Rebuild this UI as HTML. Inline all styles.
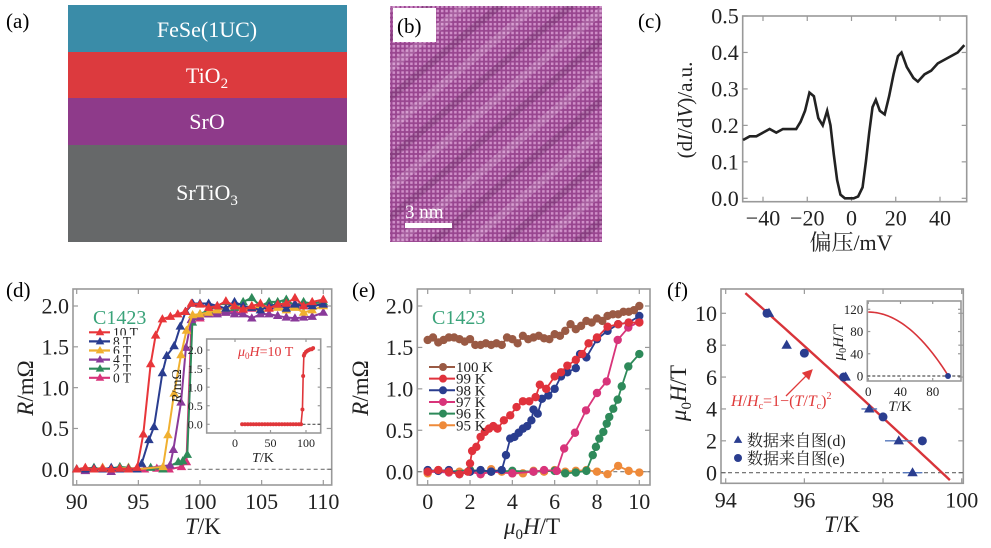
<!DOCTYPE html>
<html><head><meta charset="utf-8"><style>
html,body{margin:0;padding:0;background:#fff;}
svg{display:block;font-family:"Liberation Serif","Noto Serif CJK SC",serif;}
</style></head><body>
<svg id="fig" width="991" height="548" viewBox="0 0 991 548" xmlns="http://www.w3.org/2000/svg">
<defs>
<pattern id="lat" width="4.4" height="4.4" patternUnits="userSpaceOnUse">
<rect width="4.4" height="4.4" fill="#98458f"/>
<rect x="0.9" y="0.9" width="2.6" height="2.6" fill="#cf8ec8"/>
</pattern>
<pattern id="bands" width="46" height="46" patternUnits="userSpaceOnUse" patternTransform="rotate(-40)">
<rect width="46" height="7" fill="#3a1035" opacity="0.18"/>
<rect y="23" width="46" height="8" fill="#ffffff" opacity="0.14"/>
</pattern>
<marker id="arr" markerWidth="8" markerHeight="8" refX="6" refY="4" orient="auto"><path d="M0,0 L8,4 L0,8 z" fill="#e03a3a"/></marker>
</defs>

<g>
<text x="6" y="28" font-size="21">(a)</text>
<rect x="68" y="5" width="279" height="47" fill="#3a8ca8"/>
<rect x="68" y="52" width="279" height="46" fill="#dc3a3e"/>
<rect x="68" y="98" width="279" height="47" fill="#8e3a8a"/>
<rect x="68" y="145" width="279" height="97" fill="#666869"/>
<text x="207" y="37" font-size="22" fill="#fff" text-anchor="middle">FeSe(1UC)</text>
<text x="207" y="83" font-size="22" fill="#fff" text-anchor="middle">TiO<tspan font-size="15" dy="5">2</tspan></text>
<text x="207" y="129" font-size="22" fill="#fff" text-anchor="middle">SrO</text>
<text x="207" y="200" font-size="22" fill="#fff" text-anchor="middle">SrTiO<tspan font-size="15" dy="5">3</tspan></text>
</g>

<g>
<rect x="390" y="6" width="212" height="236" fill="url(#lat)"/>
<rect x="390" y="6" width="212" height="236" fill="url(#bands)"/>
<rect x="393" y="8" width="43" height="34" fill="#fff"/>
<text x="397" y="33" font-size="21">(b)</text>
<text x="405" y="218" font-size="19" fill="#fff">3 nm</text>
<rect x="405" y="223" width="47" height="5" fill="#fff"/>
</g>

<text x="638" y="28" font-size="21">(c)</text>
<text x="6" y="297" font-size="21">(d)</text>
<text x="352" y="297" font-size="21">(e)</text>
<text x="667" y="297" font-size="21">(f)</text>
</svg>
<script>
// ---------- data: panel c ----------
const cBias = [-49,-46,-43,-40,-37,-34,-31,-28,-25,-23,-21,-19,-17,-15,-13,-11,-9.5,-8,-6.5,-5,-3,-1,1,3,5,6.5,8,9.5,11,12.8,15,17,19,21,22.6,25,28,30,33,36,39,42,45,48,51];
const cDidv = [0.16,0.17,0.17,0.18,0.19,0.18,0.19,0.19,0.19,0.21,0.24,0.29,0.28,0.22,0.2,0.24,0.2,0.12,0.05,0.01,0.0,0.0,0.0,0.005,0.03,0.1,0.18,0.25,0.27,0.24,0.23,0.28,0.34,0.39,0.4,0.36,0.33,0.32,0.34,0.35,0.37,0.38,0.39,0.4,0.42];
const cYTicks = [0,0.1,0.2,0.3,0.4,0.5];
const cXTicks = [-40,-20,0,20,40];
// ---------- data: panel d ----------
const dLowT = [90,90.7,91.4,92.1,92.8,93.5,94.2,94.9];
const dHighT = [100,100.7,101.4,102.1,102.8,103.5,104.2,104.9,105.6,106.3,107,107.7,108.4,109.1,110];
const dFields = ['10 T','8 T','6 T','4 T','2 T','0 T'];
const dColors = ['#e8363a','#2a3d8f','#f0b030','#8a3a9a','#2e8a5a','#d8347a'];
const dTransT = [
 [95.4,96.0,96.4,96.95,97.6,98.2,98.8,99.3],
 [95.27,95.86,96.27,96.95,97.3,97.9,98.4,98.84,99.4],
 [97.0,97.4,97.9,98.46,98.9,99.4],
 [97.57,97.84,98.46,98.86,99.3],
 [96,97,98.24,98.6,98.97,99.38],
 [95.5,96.5,97.5,98.5,98.9,99.32]];
const dTransR = [
 [0.43,1.29,1.64,1.84,1.87,1.9,1.93,2.03],
 [0.07,0.36,0.52,1.18,1.39,1.51,1.75,1.93,2.03],
 [0.03,0.42,0.93,1.4,1.7,1.89],
 [0.05,0.24,0.82,1.49,1.83],
 [0.02,0,0.09,0.1,0.18,1.8],
 [0,0.01,0,0.03,0.09,1.84]];
const dLowR = [
 [0,0.02,0,0.01,0,0.01,0,0.02],
 [0,0,0.01,0,0.02,0,0.01,0],
 [0,0.01,0,0.02,0,0.01,0.02,0],
 [0,-0.02,0,0.02,-0.03,0.01,0,0],
 [0,0.01,0.02,0,0.01,0.03,0.02,0],
 [0,-0.01,0,0,0,0,0,0]];
const dHighR = [
 [2.02,1.98,2.0,2.06,2.0,1.96,2.0,2.03,1.97,2.02,2.03,2.1,2.0,2.05,2.08],
 [2.03,2.03,2.0,1.97,2.05,2.0,1.98,1.95,2.0,2.02,1.97,2.02,2.0,2.0,2.02],
 [1.9,1.92,1.95,1.97,2.0,1.98,2.0,1.97,2.0,1.98,1.95,1.98,1.92,1.95,2.0],
 [1.87,1.9,1.9,1.92,1.9,1.9,1.85,1.9,1.9,1.88,1.86,1.85,1.86,1.87,1.92],
 [1.9,1.95,2.0,2.05,1.98,2.05,2.1,2.0,2.05,2.05,2.08,2.0,2.05,2.03,2.05],
 [1.85,1.9,1.92,1.92,1.95,1.95,1.97,2.0,1.98,2.0,2.02,2.03,2.02,2.0,2.03]];
const dXTicks = [90,95,100,105,110];
const dYTicks = [0,0.5,1.0,1.5,2.0];
const dInsetT = [10,14,18,22,26,30,34,38,42,46,50,54,58,62,66,70,74,78,82,86,90,93,95,96,97,98,100,102,104,106,108,110];
const dInsetR = [0,0,0,0,0,0,0,0,0,0,0,0,0,0,0,0,0,0,0,0,0,0,0.4,1.3,1.85,1.9,1.95,1.98,2.0,2.02,2.02,2.05];
const dInsetXTicks = [0,50,100];
const dInsetYTicks = [0,0.5,1.0,1.5,2.0];
// ---------- data: panel e ----------
const eTemps = ['100 K','99 K','98 K','97 K','96 K','95 K'];
const eColors = ['#9a5a44','#e0323c','#2a3d8f','#d8347a','#2e8a5a','#ee8a3a'];
const eH = [
 [0,0.25,0.5,0.75,1,1.25,1.5,1.75,2,2.25,2.5,2.75,3,3.25,3.5,3.75,4,4.25,4.5,4.75,5,5.25,5.5,5.75,6,6.25,6.5,6.75,7,7.25,7.5,7.75,8,8.25,8.5,8.75,9,9.25,9.5,9.75,10],
 [0,0.5,1,1.5,1.9,2.0,2.1,2.3,2.5,2.7,2.9,3.1,3.3,3.6,3.9,4.2,4.5,4.8,5.1,5.3,5.6,6,6.3,6.6,7,7.3,7.6,8,8.5,9,9.5,10],
 [0,0.5,1,1.5,2,2.5,3,3.5,3.7,3.9,4.1,4.3,4.5,4.7,4.9,5.0,5.2,5.4,5.7,6,6.3,6.6,7,7.2,7.5,8,8.5,9,9.5,10],
 [0,1,2,2.5,3,4,5,5.5,6.1,6.45,6.96,7.48,8.0,8.46,8.98,9.48,10],
 [0,1,2,3,4,5,6,6.5,7,7.5,7.8,7.95,8.11,8.3,8.46,8.58,8.77,8.98,9.17,9.48,10],
 [0,0.5,1,1.5,2,2.5,3,3.5,4,4.5,5,5.5,6,6.5,7,7.5,8,8.5,9,9.5,10]];
const eR = [
 [1.59,1.62,1.56,1.59,1.62,1.62,1.6,1.57,1.6,1.53,1.53,1.55,1.53,1.55,1.53,1.62,1.6,1.55,1.64,1.6,1.62,1.64,1.61,1.6,1.66,1.64,1.7,1.78,1.72,1.76,1.82,1.8,1.85,1.82,1.88,1.9,1.9,1.93,1.93,1.95,2.0],
 [0,0.02,0,-0.03,0,0.1,0.25,0.3,0.42,0.48,0.52,0.55,0.52,0.62,0.68,0.78,0.85,0.85,0.9,1.05,1.0,1.15,1.2,1.28,1.35,1.42,1.55,1.62,1.75,1.78,1.8,1.8],
 [0.02,0.01,0.02,-0.03,0,0.02,0,0.02,0.2,0.4,0.42,0.47,0.52,0.55,0.62,0.75,0.7,0.88,0.92,1.0,1.15,1.2,1.25,1.42,1.38,1.6,1.7,1.78,1.8,1.88],
 [0,-0.01,0,-0.03,0,-0.02,0,0.02,0.01,0.28,0.47,0.74,0.95,1.09,1.59,1.74,1.81],
 [0.01,0,0.02,0,0.01,0,0.01,-0.02,-0.01,0.01,0.2,0.3,0.4,0.48,0.58,0.66,0.76,0.87,1.03,1.27,1.42],
 [-0.02,0.02,0.01,0,0.02,-0.03,0.03,0,-0.02,-0.02,0.01,0,0.02,0,0.01,0.02,0,-0.03,0.07,0.01,-0.01]];
const eXTicks = [0,2,4,6,8,10];
const eYTicks = [0,0.5,1.0,1.5,2.0];
// ---------- data: panel f ----------
const fTriT = [95.1,95.55,97.05,97.65,98.4,98.75];
const fTriH = [10,8,6,4,2,0];
const fTriErr = [0.05,0.05,0.05,0.2,0.35,0.25];
const fCirT = [95.05,96.0,97.0,98.0,99.0];
const fCirH = [10,7.5,6,3.5,2];
const fFitTc = [99.5];
const fFitHc = [115];
const fXTicks = [94,96,98,100];
const fYTicks = [0,2,4,6,8,10];
const fInsetXTicks = [0,40,80];
const fInsetYTicks = [0,40,80,120];
const fInsetPtT = [99];
const fInsetPtH = [0];

const NS='http://www.w3.org/2000/svg';
const svg=document.getElementById('fig');
function el(tag,attrs,parent){const e=document.createElementNS(NS,tag);for(const k in attrs)e.setAttribute(k,attrs[k]);(parent||svg).appendChild(e);return e;}
function lin(d0,d1,p0,p1){return v=>p0+(v-d0)*(p1-p0)/(d1-d0);}
function txt(x,y,s,size,anchor,parent,fill){const t=el('text',{x:x,y:y,'font-size':size,'text-anchor':anchor||'start',fill:fill||'#222'},parent);t.textContent=s;return t;}

function axes(g,L,R,T,B,sx,sy,xt,yt,fs,xfmt,yfmt,name,tl){
  const f=el('rect',{x:L,y:T,width:R-L,height:B-T,fill:'none',stroke:'#999','stroke-width':1.6},g);
  
  
  xt.forEach(v=>{const x=sx(v);
    const tk=el('line',{x1:x,x2:x,y1:B,y2:B-tl,stroke:'#999','stroke-width':1.2},g);
    
    
    const tk2=el('line',{x1:x,x2:x,y1:T,y2:T+tl,stroke:'#999','stroke-width':1.2},g);
    
    
    const t=txt(x,B+fs+2,xfmt(v),fs,'middle',g);
    
    });
  yt.forEach(v=>{const y=sy(v);
    const tk=el('line',{x1:L,x2:L+tl,y1:y,y2:y,stroke:'#999','stroke-width':1.2},g);
    
    
    const tk2=el('line',{x1:R,x2:R-tl,y1:y,y2:y,stroke:'#999','stroke-width':1.2},g);
    
    
    const t=txt(L-4,y+fs*0.35,yfmt(v),fs,'end',g);
    
    });
}
function minus(s){return String(s).replace('-','\u2212');}
function poly(g,xs,ys,sx,sy,color,w){return el('polyline',{points:xs.map((v,i)=>sx(v)+','+sy(ys[i])).join(' '),fill:'none',stroke:color,'stroke-width':w||1.8},g);}
function tri(g,x,y,s,color){return el('path',{d:`M${x},${y-s} L${x+s*0.95},${y+s*0.65} L${x-s*0.95},${y+s*0.65} Z`,fill:color},g);}

// ===== panel c =====
{const g=el('g',{});


const sx=lin(-40,40,763,940), sy=lin(0,0.5,198.3,16);
axes(g,742.7,966.7,16,201.7,sx,sy,cXTicks,cYTicks,22,v=>minus(v),v=>v.toFixed(1),'panel-c',5);
const p=poly(g,cBias,cDidv,sx,sy,'#222',2.6);


const xl=txt(851,250,'偏压/mV',22,'middle',g);


const yl=el('text',{x:0,y:0,'font-size':21,'text-anchor':'middle',fill:'#222',transform:'translate(692,110) rotate(-90)'},g);
yl.innerHTML='(d<tspan font-style="italic">I</tspan>/d<tspan font-style="italic">V</tspan>)/a.u.';

}

// ===== panel d =====
{const g=el('g',{});


const L=73,R=331.7,T=289,B=485;
const sx=lin(90,110,76.7,323.3), sy=lin(0,2,469.3,306);
axes(g,L,R,T,B,sx,sy,dXTicks,dYTicks,22,v=>String(v),v=>v.toFixed(1),'panel-d',5);
const z=el('line',{x1:sx(99),x2:R,y1:sy(0),y2:sy(0),stroke:'#777','stroke-dasharray':'4,3','stroke-width':1.2},g);


for(let s=dFields.length-1;s>=0;s--){
  const xs=dLowT.concat(dTransT[s],dHighT), ys=dLowR[s].concat(dTransR[s],dHighR[s]);
  const p=poly(g,xs,ys,sx,sy,dColors[s],2);
  
  
  xs.forEach((v,i)=>{const m=tri(g,sx(v),sy(ys[i]),5,dColors[s]);
    
    });
}
const c=txt(93,324,'C1423',20,'start',g,'#3aa37a');


dFields.forEach((f,i)=>{const y=332.3+i*9.1;
  const lg=el('g',{},g);
  
  
  el('rect',{x:111,y:y-6,width:34,height:10,fill:'#fff'},lg);
  el('line',{x1:89,x2:110,y1:y,y2:y,stroke:dColors[i],'stroke-width':2.2},lg);
  tri(lg,100,y,4.5,dColors[i]);
  txt(113,y+4.5,f,13.5,'start',lg);});
const xl=el('text',{x:203,y:534,'font-size':23,'text-anchor':'middle',fill:'#222'},g);
xl.innerHTML='<tspan font-style="italic">T</tspan>/K';


const yl=el('text',{x:0,y:0,'font-size':23,'text-anchor':'middle',fill:'#222',transform:'translate(33,388) rotate(-90)'},g);
yl.innerHTML='<tspan font-style="italic">R</tspan>/mΩ';


const ig=el('g',{},g);


el('rect',{x:206.7,y:339,width:114,height:94,fill:'#fff'},ig);
const isx=lin(0,100,235,306), isy=lin(0,2,424.3,350);
axes(ig,206.7,320.7,339,433,isx,isy,dInsetXTicks,dInsetYTicks,12,v=>String(v),v=>v.toFixed(1),'panel-d-inset',3);
const iz=el('line',{x1:isx(95),x2:320.7,y1:isy(0),y2:isy(0),stroke:'#555','stroke-dasharray':'3,2','stroke-width':1.2},ig);


const ip=poly(ig,dInsetT,dInsetR,isx,isy,'#e0363a',1.6);


dInsetT.forEach((v,i)=>{const m=el('circle',{cx:isx(v),cy:isy(dInsetR[i]),r:2,fill:'#e0363a'},ig);
  
  });
const it=el('text',{x:238,y:356,'font-size':14,fill:'#e0363a'},ig);
it.innerHTML='<tspan font-style="italic">μ</tspan><tspan font-size="9" dy="3">0</tspan><tspan dy="-3" font-style="italic">H</tspan>=10 T';


const ixl=el('text',{x:263,y:462,'font-size':14,'text-anchor':'middle',fill:'#222'},ig);
ixl.innerHTML='<tspan font-style="italic">T</tspan>/K';


const iyl=el('text',{x:0,y:0,'font-size':14,'text-anchor':'middle',fill:'#222',transform:'translate(181,386) rotate(-90)'},ig);
iyl.innerHTML='<tspan font-style="italic">R</tspan>/mΩ';

}

// ===== panel e =====
{const g=el('g',{});


const L=417.3,R=650,T=289,B=485;
const sx=lin(0,10,427.7,639.3), sy=lin(0,2,471.7,306);
axes(g,L,R,T,B,sx,sy,eXTicks,eYTicks,22,v=>String(v),v=>v.toFixed(1),'panel-e',5);
const z=el('line',{x1:L,x2:R,y1:sy(0),y2:sy(0),stroke:'#777','stroke-dasharray':'4,3','stroke-width':1.2},g);


for(let s=eTemps.length-1;s>=0;s--){
  const p=poly(g,eH[s],eR[s],sx,sy,eColors[s],1.8);
  
  
  eH[s].forEach((v,i)=>{const m=el('circle',{cx:sx(v),cy:sy(eR[s][i]),r:4.2,fill:eColors[s]},g);
    
    });
}
const c=txt(432,324,'C1423',20,'start',g,'#3aa37a');


eTemps.forEach((f,i)=>{const y=367+i*11.65;
  const lg=el('g',{},g);
  
  
  el('line',{x1:429,x2:455,y1:y,y2:y,stroke:eColors[i],'stroke-width':2},lg);
  el('circle',{cx:443,cy:y,r:4,fill:eColors[i]},lg);
  txt(456,y+5,f,15,'start',lg);});
const xl=el('text',{x:532,y:534,'font-size':23,'text-anchor':'middle',fill:'#222'},g);
xl.innerHTML='<tspan font-style="italic">μ</tspan><tspan font-size="15" dy="5">0</tspan><tspan dy="-5" font-style="italic">H</tspan>/T';


const yl=el('text',{x:0,y:0,'font-size':23,'text-anchor':'middle',fill:'#222',transform:'translate(368,388) rotate(-90)'},g);
yl.innerHTML='<tspan font-style="italic">R</tspan>/mΩ';

}

// ===== panel f =====
{const g=el('g',{});


const L=721,R=963.3,T=289,B=483.3;
const sx=lin(94,100,725.7,961.7), sy=lin(0,10,472.7,313.3);
axes(g,L,R,T,B,sx,sy,fXTicks,fYTicks,22,v=>String(v),v=>String(v),'panel-f',5);
const z=el('line',{x1:L,x2:R,y1:sy(0),y2:sy(0),stroke:'#666','stroke-dasharray':'4,3','stroke-width':1.2},g);


const tc=fFitTc[0],hc=fFitHc[0];
const fitT=[];for(let t=94.5;t<=99.72;t+=0.1)fitT.push(t);
const fitH=fitT.map(t=>hc*(1-(t/tc)*(t/tc)));
const fl=poly(g,fitT,fitH,sx,sy,'#d8343a',2.4);


fTriT.forEach((v,i)=>{
  const eb=el('line',{x1:sx(v-fTriErr[i]),x2:sx(v+fTriErr[i]),y1:sy(fTriH[i]),y2:sy(fTriH[i]),stroke:'#5577bb','stroke-width':1.3},g);
  
  
  const m=tri(g,sx(v),sy(fTriH[i]),5.5,'#2a3d8f');
  
  });
fCirT.forEach((v,i)=>{const m=el('circle',{cx:sx(v),cy:sy(fCirH[i]),r:4.5,fill:'#2a3d8f'},g);
  
  });
const ar=el('line',{x1:786,y1:396,x2:811,y2:371,stroke:'#e03a3a','stroke-width':1.3,'marker-end':'url(#arr)'},g);


const an=el('text',{x:731,y:406,'font-size':16,fill:'#e03a3a'},g);
an.innerHTML='<tspan font-style="italic">H</tspan>/<tspan font-style="italic">H</tspan><tspan font-size="10" dy="3">c</tspan><tspan dy="-3">=1−(</tspan><tspan font-style="italic">T</tspan>/<tspan font-style="italic">T</tspan><tspan font-size="10" dy="3">c</tspan><tspan dy="-3">)</tspan><tspan font-size="10" dy="-7">2</tspan>';


const l1=el('g',{},g);


tri(l1,738,440,4.5,'#2a3d8f');
txt(747,446,'数据来自图(d)',16,'start',l1);
const l2=el('g',{},g);


el('circle',{cx:738,cy:458,r:4,fill:'#2a3d8f'},l2);
txt(747,464,'数据来自图(e)',16,'start',l2);
const xl=el('text',{x:842,y:532,'font-size':23,'text-anchor':'middle',fill:'#222'},g);
xl.innerHTML='<tspan font-style="italic">T</tspan>/K';


const yl=el('text',{x:0,y:0,'font-size':23,'text-anchor':'middle',fill:'#222',transform:'translate(686,393) rotate(-90)'},g);
yl.innerHTML='<tspan font-style="italic">μ</tspan><tspan font-size="15" dy="5">0</tspan><tspan dy="-5" font-style="italic">H</tspan>/T';


const ig=el('g',{},g);


const isx=lin(0,80,868.3,932.7), isy=lin(0,120,376,309.3);
axes(ig,867.3,961,301,381,isx,isy,fInsetXTicks,fInsetYTicks,13,v=>String(v),v=>String(v),'panel-f-inset',3);
const iz=el('line',{x1:867.3,x2:961,y1:isy(0),y2:isy(0),stroke:'#555','stroke-dasharray':'3,2','stroke-width':1.2},ig);


const iT=[];for(let t=0;t<=tc;t+=2)iT.push(t);
const iH=iT.map(t=>hc*(1-(t/tc)*(t/tc)));
const ic=poly(ig,iT,iH,isx,isy,'#d8343a',1.6);


fInsetPtT.forEach((v,i)=>{const m=el('circle',{cx:isx(v),cy:isy(fInsetPtH[i]),r:3,fill:'#2a3d8f'},ig);
  
  });
const ixl=el('text',{x:900,y:411,'font-size':15,'text-anchor':'middle',fill:'#222'},ig);
ixl.innerHTML='<tspan font-style="italic">T</tspan>/K';


const iyl=el('text',{x:0,y:0,'font-size':15,'text-anchor':'middle',fill:'#222',transform:'translate(843,342) rotate(-90)'},ig);
iyl.innerHTML='<tspan font-style="italic">μ</tspan><tspan font-size="10" dy="3">0</tspan><tspan dy="-3" font-style="italic">H</tspan>/T';

}
</script>
</body></html>
